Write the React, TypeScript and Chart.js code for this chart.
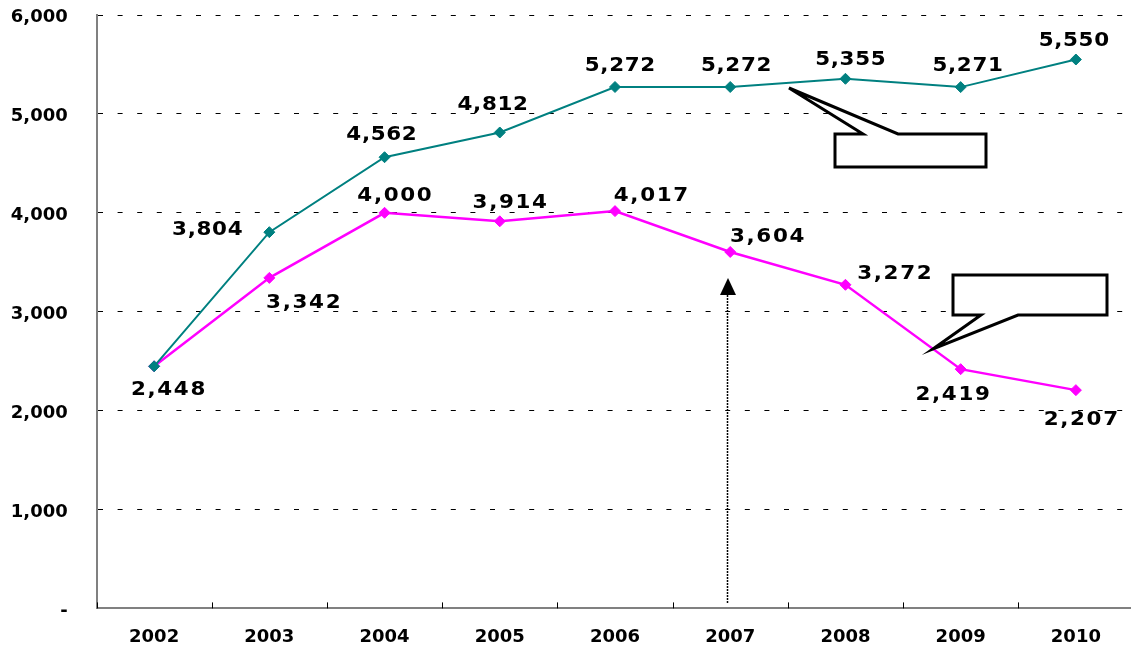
import { useEffect, useRef } from 'react';
import { Chart, registerables } from 'chart.js';

Chart.register(...registerables);

// ---- data ----
const years = ['2002', '2003', '2004', '2005', '2006', '2007', '2008', '2009', '2010'];
const tealValues = [2448, 3804, 4562, 4812, 5272, 5272, 5355, 5271, 5550];
const magentaValues = [2448, 3342, 4000, 3914, 4017, 3604, 3272, 2419, 2207];
const yMin = 0;
const yMax = 6000;
const yStep = 1000;

// ---- label placement (style, pixel offsets from each point) ----
const tealLabelOffsets: ([number, number] | null)[] = [
  null, [-62, -2], [-3, -22], [-7, -28], [5, -21], [6, -21], [5, -19], [7, -21], [-2, -19],
];
const magentaLabelOffsets: ([number, number] | null)[] = [
  [14, 24], [34, 25], [10, -17], [10, -18], [36, -15], [37, -15], [49, -11], [-8, 26], [5, 30],
];
const labelOffsets = [tealLabelOffsets, magentaLabelOffsets];
const labelSpacing = [0.6, 1.5];
const labelStretch = 1.1;

const FONT = '"DejaVu Sans", Verdana, sans-serif';
const fmt = (v: number) => v.toLocaleString('en-US');

const decoPlugin = {
  id: 'deco',
  afterDatasetsDraw(chart: any) {
    const ctx = chart.ctx;
    chart.data.datasets.forEach((ds: any, di: number) => {
      const meta = chart.getDatasetMeta(di);
      const offs = labelOffsets[di];
      const sp = labelSpacing[di];
      meta.data.forEach((el: any, i: number) => {
        const o = offs[i];
        if (!o) return;
        ctx.save();
        ctx.translate(el.x + o[0], el.y + o[1]);
        ctx.scale(labelStretch, 1);
        ctx.letterSpacing = sp + 'px';
        ctx.font = `bold 19.5px ${FONT}`;
        ctx.fillStyle = '#000';
        ctx.textAlign = 'center';
        ctx.textBaseline = 'middle';
        ctx.fillText(fmt(ds.data[i]), sp / 2, 0);
        ctx.restore();
      });
    });
  },
  afterDraw(chart: any) {
    const ctx = chart.ctx;
    const xs = chart.scales.x;
    const area = chart.chartArea;
    ctx.save();
    // inner tick marks at category boundaries
    ctx.strokeStyle = '#000';
    ctx.lineWidth = 1;
    for (let i = 0; i <= years.length; i++) {
      const x = Math.round(xs.getPixelForValue(i - 0.5)) + 0.5;
      ctx.beginPath();
      ctx.moveTo(x, area.bottom - 6);
      ctx.lineTo(x, area.bottom);
      ctx.stroke();
    }
    // callout 1
    ctx.lineWidth = 3;
    ctx.lineJoin = 'miter';
    ctx.fillStyle = '#fff';
    ctx.strokeStyle = '#000';
    ctx.beginPath();
    ctx.moveTo(863, 134);
    ctx.lineTo(789, 88);
    ctx.lineTo(898, 134);
    ctx.lineTo(986, 134);
    ctx.lineTo(986, 167);
    ctx.lineTo(835, 167);
    ctx.lineTo(835, 134);
    ctx.closePath();
    ctx.fill();
    ctx.stroke();
    // callout 2
    ctx.beginPath();
    ctx.moveTo(953, 275);
    ctx.lineTo(1107, 275);
    ctx.lineTo(1107, 315);
    ctx.lineTo(1018, 315);
    ctx.lineTo(933, 349);
    ctx.lineTo(981, 315);
    ctx.lineTo(953, 315);
    ctx.closePath();
    ctx.fill();
    ctx.stroke();
    // dotted arrow
    ctx.lineWidth = 1.5;
    ctx.setLineDash([2, 1]);
    ctx.beginPath();
    ctx.moveTo(727.5, 603);
    ctx.lineTo(727.5, 294);
    ctx.stroke();
    ctx.setLineDash([]);
    ctx.fillStyle = '#000';
    ctx.beginPath();
    ctx.moveTo(728, 278);
    ctx.lineTo(736, 295);
    ctx.lineTo(720, 295);
    ctx.closePath();
    ctx.fill();
    ctx.restore();
  },
};

export default function App() {
  const ref = useRef<HTMLCanvasElement | null>(null);
  useEffect(() => {
    if (!ref.current) return;
    const chart = new Chart(ref.current, {
      type: 'line',
      data: {
        labels: years,
        datasets: [
          {
            data: tealValues,
            borderColor: '#008080',
            backgroundColor: '#008080',
            borderWidth: 2,
            pointStyle: 'rectRot',
            pointRadius: 5.5,
            pointBackgroundColor: '#008080',
            pointBorderColor: '#008080',
            pointBorderWidth: 1,
            tension: 0,
          },
          {
            data: magentaValues,
            borderColor: '#FF00FF',
            backgroundColor: '#FF00FF',
            borderWidth: 2.5,
            pointStyle: 'rectRot',
            pointRadius: 5.5,
            pointBackgroundColor: '#FF00FF',
            pointBorderColor: '#FF00FF',
            pointBorderWidth: 1,
            tension: 0,
          },
        ],
      },
      options: {
        responsive: false,
        animation: false,
        layout: { padding: { left: 0, top: 15, right: 5.3, bottom: 0 } },
        plugins: { legend: { display: false }, tooltip: { enabled: false } },
        scales: {
          x: {
            type: 'category',
            offset: true,
            grid: { display: true, drawOnChartArea: false, drawTicks: false },
            border: { display: true, color: '#808080', width: 2 },
            ticks: {
              color: '#000',
              font: { family: FONT, size: 18, weight: 'bold' },
              padding: 18.3,
              autoSkip: false,
              maxRotation: 0,
            },
            afterFit: (s: any) => {
              s.height = 38.6;
              s.paddingLeft = 0;
              s.paddingRight = 0;
              s.paddingTop = 0;
              s.paddingBottom = 0;
            },
          },
          y: {
            min: yMin,
            max: yMax,
            ticks: {
              stepSize: yStep,
              color: '#000',
              font: { family: FONT, size: 18, weight: 'bold' },
              padding: 28.8,
              labelOffset: 2.7,
              callback: (v: any) => (Number(v) === 0 ? '-' : fmt(Number(v))),
            },
            grid: {
              color: (c: any) => (c.tick && c.tick.value === 0 ? 'rgba(0,0,0,0)' : '#000'),
              lineWidth: 1,
              drawTicks: false,
            },
            border: { display: true, color: '#808080', width: 2, dash: [5, 14.6] },
            afterFit: (s: any) => {
              s.width = 96.5;
              s.paddingTop = 0;
              s.paddingBottom = 0;
              s.paddingLeft = 0;
              s.paddingRight = 0;
            },
          },
        },
      },
      plugins: [decoPlugin],
    } as any);
    return () => chart.destroy();
  }, []);
  return (
    <div
      style={{
        position: 'fixed',
        left: 0,
        top: 0,
        width: 1131,
        height: 647,
        overflow: 'hidden',
        background: '#fff',
      }}
    >
      <canvas ref={ref} width={1140} height={647} style={{ display: 'block' }} />
    </div>
  );
}
